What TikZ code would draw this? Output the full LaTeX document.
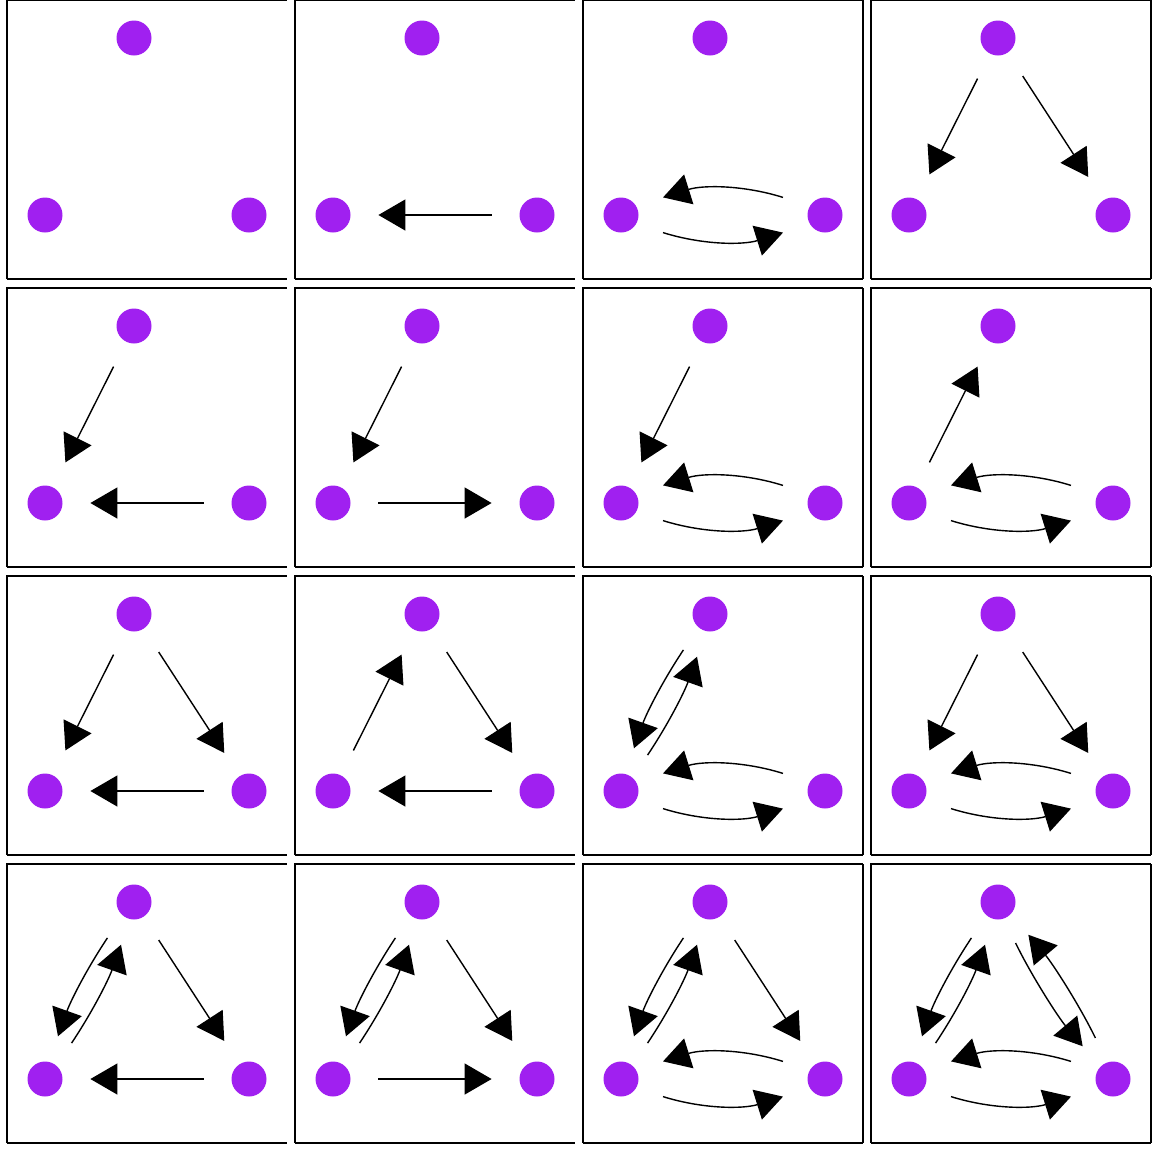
\documentclass[tikz,border=0pt]{standalone}
\usetikzlibrary{arrows.meta,calc}
\definecolor{vpurple}{RGB}{160,32,240}
\tikzset{
  vertex/.style={circle,fill=vpurple,draw=none,minimum size=17.5pt,inner sep=0pt},
  conn/.style={line width=0.7pt,-{Triangle[length=13.5pt,width=15.5pt]}},
  straightconn/.style={conn,shorten <=13.75pt,shorten >=13.75pt},
  frameline/.style={line width=0.55pt},
  framebottom/.style={line width=1.1pt}
}
% panel: #1 id, #2 column, #3 row
\newcommand\drawpanel[3]{%
  \pgfmathsetmacro\pnlx{7+288*#2}%
  \pgfmathsetmacro\pnty{288*#3}%
  \draw[frameline] (\pnlx,\pnty+279) -- (\pnlx,\pnty) -- (\pnlx+280,\pnty);
  \draw[framebottom] (\pnlx,\pnty+279) -- (\pnlx+280,\pnty+279);
  \node[vertex] (#1t) at (\pnlx+127,\pnty+38) {};
  \node[vertex] (#1l) at (\pnlx+38,\pnty+215) {};
  \node[vertex] (#1r) at (\pnlx+242,\pnty+215) {};
}
\newcommand\rightborder[2]{%
  \pgfmathsetmacro\pnlx{7+288*#1}%
  \pgfmathsetmacro\pnty{288*#2}%
  \draw[frameline] (\pnlx+280,\pnty) -- (\pnlx+280,\pnty+279);
}
% straight single edge
\newcommand\sedge[2]{\draw[straightconn] (#1) -- (#2);}
% curved mutual edges: horizontal and diagonal variants
\newcommand\mutH[2]{\draw[conn]
  ($(#1.center)!21pt!(#2.center)!8.8pt!-90:(#2.center)$)
  .. controls ($(#1.center)!41pt!(#2.center)!15.05pt!-90:(#2.center)$)
  and ($(#2.center)!41pt!(#1.center)!15.05pt!90:(#1.center)$)
  .. ($(#2.center)!21pt!(#1.center)!8.8pt!90:(#1.center)$);}
\newcommand\mutD[2]{\draw[conn]
  ($(#1.center)!22pt!(#2.center)!3.8pt!-90:(#2.center)$)
  .. controls ($(#1.center)!40.6pt!(#2.center)!6.1pt!-90:(#2.center)$)
  and ($(#2.center)!40.6pt!(#1.center)!6.1pt!90:(#1.center)$)
  .. ($(#2.center)!22pt!(#1.center)!3.8pt!90:(#1.center)$);}
\begin{document}
\begin{tikzpicture}[x=0.5pt,y=-0.5pt]
\useasboundingbox (0,0) rectangle (1152,1152);
\drawpanel{pa}{0}{0}
\drawpanel{pb}{1}{0}
\drawpanel{pc}{2}{0}
\drawpanel{pd}{3}{0}
\drawpanel{pe}{0}{1}
\drawpanel{pf}{1}{1}
\drawpanel{pg}{2}{1}
\drawpanel{ph}{3}{1}
\drawpanel{pi}{0}{2}
\drawpanel{pj}{1}{2}
\drawpanel{pk}{2}{2}
\drawpanel{pm}{3}{2}
\drawpanel{pn}{0}{3}
\drawpanel{po}{1}{3}
\drawpanel{pp}{2}{3}
\drawpanel{pq}{3}{3}
\rightborder{2}{0}\rightborder{3}{0}
\rightborder{2}{1}\rightborder{3}{1}
\rightborder{2}{2}\rightborder{3}{2}
\rightborder{2}{3}\rightborder{3}{3}
% 2
\sedge{pbr}{pbl}
% 3
\mutH{pcl}{pcr}\mutH{pcr}{pcl}
% 4
\sedge{pdt}{pdl}\sedge{pdt}{pdr}
% 5
\sedge{pet}{pel}\sedge{per}{pel}
% 6
\sedge{pft}{pfl}\sedge{pfl}{pfr}
% 7
\sedge{pgt}{pgl}\mutH{pgl}{pgr}\mutH{pgr}{pgl}
% 8
\sedge{phl}{pht}\mutH{phl}{phr}\mutH{phr}{phl}
% 9
\sedge{pit}{pil}\sedge{pit}{pir}\sedge{pir}{pil}
% 10
\sedge{pjl}{pjt}\sedge{pjt}{pjr}\sedge{pjr}{pjl}
% 11
\mutD{pkt}{pkl}\mutD{pkl}{pkt}\mutH{pkl}{pkr}\mutH{pkr}{pkl}
% 12
\sedge{pmt}{pml}\sedge{pmt}{pmr}\mutH{pml}{pmr}\mutH{pmr}{pml}
% 13
\mutD{pnt}{pnl}\mutD{pnl}{pnt}\sedge{pnt}{pnr}\sedge{pnr}{pnl}
% 14
\mutD{pot}{pol}\mutD{pol}{pot}\sedge{pot}{por}\sedge{pol}{por}
% 15
\mutD{ppt}{ppl}\mutD{ppl}{ppt}\sedge{ppt}{ppr}\mutH{ppl}{ppr}\mutH{ppr}{ppl}
% 16
\mutD{pqt}{pql}\mutD{pql}{pqt}\mutD{pqt}{pqr}\mutD{pqr}{pqt}\mutH{pql}{pqr}\mutH{pqr}{pql}
\end{tikzpicture}
\end{document}
